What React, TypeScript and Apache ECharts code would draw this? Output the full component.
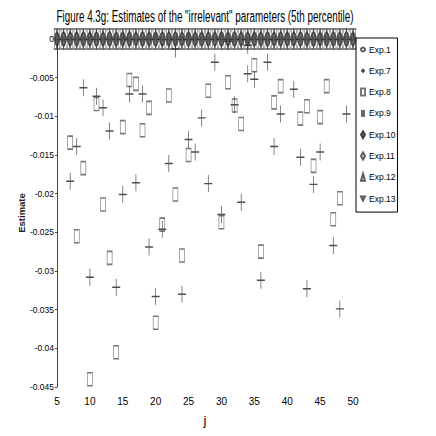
import React, { useEffect, useRef } from "react";
import * as echarts from "echarts";

const titleText = 'Figure 4.3g: Estimates of the "irrelevant" parameters (5th percentile)';
const xTicks = [5, 10, 15, 20, 25, 30, 35, 40, 45, 50];

// Exp.7 (plus markers): [j, estimate]
const exp7: [number, number][] = [
  [7, -0.0184], [8, -0.0139], [9, -0.0063], [10, -0.0308], [11, -0.0074],
  [12, -0.0089], [13, -0.0119], [14, -0.0321], [15, -0.0201], [16, -0.0071],
  [17, -0.0186], [18, -0.0071], [19, -0.0269], [20, -0.0333], [21, -0.0246],
  [22, -0.0161], [23, -0.0013], [24, -0.033], [25, -0.013], [26, -0.0146],
  [27, -0.0102], [28, -0.0187], [29, -0.003], [30, -0.0227], [31, -0.0003],
  [32, -0.0085], [33, -0.0211], [34, -0.0045], [34, -0.0008], [35, -0.0052],
  [36, -0.0312], [37, -0.003], [38, -0.0139], [39, -0.0097], [41, -0.0065],
  [42, -0.0153], [43, -0.0323], [44, -0.0188], [45, -0.0146], [47, -0.0267],
  [48, -0.0349], [49, -0.0097],
];

// Exp.8 (square markers): [j, estimate]
const exp8: [number, number][] = [
  [7, -0.0134], [8, -0.0255], [9, -0.0167], [10, -0.044], [11, -0.0084],
  [12, -0.0214], [13, -0.0283], [14, -0.0405], [15, -0.0114], [16, -0.0053],
  [17, -0.0058], [18, -0.0118], [19, -0.0089], [20, -0.0367], [21, -0.024],
  [22, -0.0073], [23, -0.0201], [24, -0.028], [25, -0.015], [28, -0.0067],
  [30, -0.0237], [31, -0.0056], [32, -0.0086], [33, -0.011], [35, -0.0034],
  [36, -0.0275], [38, -0.0082], [39, -0.0061], [42, -0.0103], [43, -0.0087],
  [44, -0.0164], [45, -0.0101], [46, -0.0061], [47, -0.0233], [48, -0.0206],
];

// Experiments whose estimates are all zero for j = 5..50
const jValues = [
  5, 6, 7, 8, 9, 10, 11, 12, 13, 14, 15, 16, 17, 18, 19, 20, 21, 22, 23, 24, 25, 26, 27,
  28, 29, 30, 31, 32, 33, 34, 35, 36, 37, 38, 39, 40, 41, 42, 43, 44, 45, 46, 47, 48, 49, 50,
];
const zeroEstimates = jValues.map((j) => [j, 0]);

const FONT = "'Liberation Sans', Arial, sans-serif";
const PLUS = "path://M5,0L5,10M0,5L10,5";

export default function App() {
  const ref = useRef<HTMLDivElement>(null);
  useEffect(() => {
    if (!ref.current) return;
    const chart = echarts.init(ref.current, null, { renderer: "svg" });
    const hollow = (c: string, w = 0.9) => ({ color: "transparent", borderColor: c, borderWidth: w });
    const zeroSeries = (name: string, symbol: string, size: number[], style: any) => ({
      name,
      type: "scatter",
      data: zeroEstimates,
      symbol,
      symbolSize: size,
      itemStyle: style,
      z: 3,
    });
    chart.setOption({
      animation: false,
      backgroundColor: "#fff",
      graphic: [
        {
          type: "text",
          x: 205,
          y: 16,
          scaleX: 0.58,
          style: {
            text: titleText,
            fontFamily: FONT,
            fontSize: 17,
            fill: "#000",
            textAlign: "center",
            textVerticalAlign: "middle",
          },
        },
      ],
      grid: { left: 57, right: 83, top: 39, bottom: 49 },
      legend: {
        orient: "vertical",
        left: 356,
        top: 38,
        borderColor: "#000",
        borderWidth: 1,
        borderRadius: 0,
        padding: [7, 2, 9, 4],
        itemGap: 12.3,
        itemWidth: 4,
        itemHeight: 7,
        textStyle: { fontFamily: FONT, fontSize: 8.5, color: "#000", padding: [0, 0, 0, -1] },
        data: ["Exp.1", "Exp.7", "Exp.8", "Exp.9", "Exp.10", "Exp.11", "Exp.12", "Exp.13"],
      },
      xAxis: {
        type: "value",
        min: 5,
        max: 50,
        interval: 5,
        name: "j",
        nameLocation: "middle",
        nameGap: 27,
        nameMoveOverlap: false,
        nameTextStyle: { fontFamily: FONT, fontSize: 13, color: "#000" },
        axisLine: { lineStyle: { color: "#444", width: 1 } },
        axisTick: { inside: true, length: 5, lineStyle: { color: "#444" } },
        axisLabel: {
          fontFamily: FONT,
          fontSize: 10,
          color: "#000",
          margin: 9,
          formatter: (v: number) => (xTicks.includes(v) ? String(v) : ""),
        },
        splitLine: { show: false },
      },
      yAxis: {
        type: "value",
        min: -0.045,
        max: 0,
        interval: 0.005,
        name: "Estimate",
        nameLocation: "middle",
        nameGap: 31,
        nameMoveOverlap: false,
        nameTextStyle: { fontFamily: FONT, fontSize: 9.5, fontWeight: "bold", color: "#222" },
        axisLine: { show: true, lineStyle: { color: "#444", width: 1 } },
        axisTick: { show: true, inside: false, length: 2, lineStyle: { color: "#444" } },
        axisLabel: {
          fontFamily: FONT,
          fontSize: 8.5,
          color: "#000",
          margin: 3,
          formatter: (v: number) => (Math.abs(v) < 1e-9 ? "0" : String(parseFloat(v.toFixed(3)))),
        },
        splitLine: { show: false },
      },
      series: [
        zeroSeries("Exp.1", "circle", [6, 12], hollow("#333")),
        {
          name: "Exp.7",
          type: "scatter",
          data: exp7,
          symbol: PLUS,
          symbolSize: [8, 17],
          itemStyle: hollow("#222", 1),
          z: 2,
        },
        {
          name: "Exp.8",
          type: "scatter",
          data: exp8,
          symbol: "rect",
          symbolSize: [5, 13],
          itemStyle: hollow("#555", 1),
          z: 2,
        },
        zeroSeries("Exp.9", "rect", [2, 5], { color: "#444" }),
        zeroSeries("Exp.10", "diamond", [5, 14], { color: "#555", borderColor: "#222", borderWidth: 0.6 }),
        zeroSeries("Exp.11", "diamond", [6, 18], hollow("#333")),
        zeroSeries("Exp.12", "triangle", [6, 20], hollow("#333")),
        zeroSeries("Exp.13", "path://M0,0L10,0L5,10Z", [6, 20], hollow("#333")),
      ],
    });
    return () => chart.dispose();
  }, []);
  return (
    <div
      ref={ref}
      style={{ position: "fixed", left: 0, top: 0, width: 436, height: 436, background: "#fff" }}
    />
  );
}
